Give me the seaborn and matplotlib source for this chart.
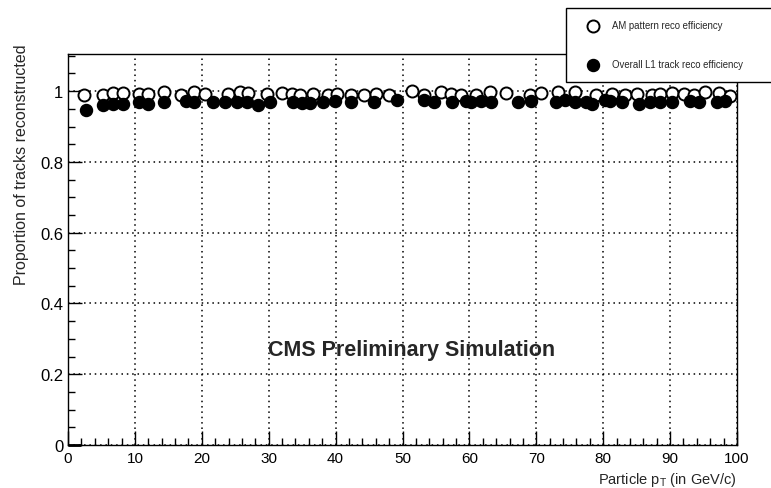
import matplotlib
matplotlib.use("Agg")
import matplotlib.pyplot as plt
import seaborn as sns
import pandas as pd
from matplotlib.ticker import MultipleLocator

# ---- data -------------------------------------------------------------
am_pt = [2.4, 5.2, 6.7, 8.2, 10.6, 12.0, 14.3, 16.9, 18.8, 20.5, 23.9, 25.7,
         26.9, 29.7, 32.0, 33.5, 34.7, 36.6, 38.9, 40.2, 42.3, 44.2, 46.0, 48.0,
         51.4, 53.2, 55.8, 57.2, 58.7, 61.0, 63.1, 65.5, 69.1, 70.7, 73.2, 75.8,
         78.9, 81.3, 83.3, 85.1, 87.3, 88.5, 90.3, 92.1, 93.6, 95.2, 97.3, 98.9]
am_eff = [0.988, 0.990, 0.995, 0.995, 0.993, 0.993, 0.997, 0.988, 0.997, 0.993,
          0.993, 0.997, 0.995, 0.993, 0.995, 0.993, 0.990, 0.993, 0.990, 0.993,
          0.990, 0.990, 0.993, 0.990, 1.000, 0.990, 0.997, 0.993, 0.990, 0.990,
          0.997, 0.995, 0.990, 0.995, 0.997, 0.997, 0.990, 0.993, 0.990, 0.993,
          0.990, 0.993, 0.995, 0.993, 0.990, 0.997, 0.995, 0.987]

l1_pt = [2.7, 5.2, 6.7, 8.2, 10.6, 12.0, 14.3, 17.6, 18.8, 21.7, 23.5, 25.3,
         26.8, 28.4, 30.2, 33.6, 35.0, 36.2, 38.1, 39.9, 42.3, 45.7, 49.2, 53.2,
         54.7, 57.4, 59.5, 60.3, 61.8, 63.2, 67.3, 69.2, 72.9, 74.3, 75.8, 77.4,
         78.4, 80.3, 81.0, 82.8, 85.4, 87.0, 88.5, 90.3, 93.0, 94.3, 97.0, 98.2]
l1_eff = [0.947, 0.960, 0.965, 0.965, 0.968, 0.965, 0.970, 0.972, 0.968, 0.970,
          0.970, 0.968, 0.970, 0.960, 0.970, 0.970, 0.967, 0.967, 0.970, 0.972,
          0.968, 0.970, 0.975, 0.975, 0.970, 0.968, 0.972, 0.970, 0.972, 0.970,
          0.970, 0.972, 0.968, 0.975, 0.970, 0.968, 0.965, 0.975, 0.972, 0.968,
          0.965, 0.970, 0.968, 0.970, 0.972, 0.970, 0.968, 0.972]

zero_bin_pt = [1.0]
zero_bin_eff = [0.0]
zero_bin_halfwidth = [1.0]

x_ticks = [0, 10, 20, 30, 40, 50, 60, 70, 80, 90, 100]
y_ticks = [0, 0.2, 0.4, 0.6, 0.8, 1.0]
y_tick_labels = ["0", "0.2", "0.4", "0.6", "0.8", "1"]

am_label = "AM pattern reco efficiency"
l1_label = "Overall L1 track reco efficiency"

# ---- style ------------------------------------------------------------
sns.set_style("ticks")
plt.rcParams["font.family"] = ["Liberation Sans", "DejaVu Sans"]
plt.rcParams["mathtext.default"] = "regular"
plt.rcParams["xtick.direction"] = "in"
plt.rcParams["ytick.direction"] = "in"

fig = plt.figure(figsize=(7.71, 4.89), dpi=100)
ax = fig.add_axes([68 / 771, 43 / 489, 669 / 771, 391 / 489])

am_df = pd.DataFrame({"pt": am_pt, "eff": am_eff})
l1_df = pd.DataFrame({"pt": l1_pt, "eff": l1_eff})

sns.scatterplot(data=am_df, x="pt", y="eff", ax=ax, s=75, marker="o",
                facecolor="white", edgecolor="black", linewidth=1.4,
                label=am_label, zorder=3, legend=False)
sns.scatterplot(data=l1_df, x="pt", y="eff", ax=ax, s=75, marker="o",
                color="black", edgecolor="black", linewidth=1.0,
                label=l1_label, zorder=4, legend=False)
ax.errorbar(zero_bin_pt, zero_bin_eff, xerr=zero_bin_halfwidth, fmt="none",
            ecolor="black", elinewidth=2.0, zorder=5, clip_on=False)

ax.set_xlim(0, 100)
ax.set_ylim(0, 1.105)
ax.set_xticks(x_ticks)
ax.set_xticklabels([str(t) for t in x_ticks])
ax.set_yticks(y_ticks)
ax.set_yticklabels(y_tick_labels)
ax.xaxis.set_minor_locator(MultipleLocator(2))
ax.yaxis.set_minor_locator(MultipleLocator(0.05))
ax.tick_params(axis="both", which="major", length=10, width=1,
               color="black", labelcolor="black")
ax.tick_params(axis="x", which="major", labelsize=11, pad=4)
ax.tick_params(axis="y", which="major", labelsize=12, pad=3.5)
ax.tick_params(axis="both", which="minor", length=5, width=1, color="black")
ax.tick_params(top=False, right=False, which="both")

ax.grid(True, which="major", linestyle=(0, (1, 2.5)), linewidth=1.1,
        color="black")
for sp in ax.spines.values():
    sp.set_visible(True)
    sp.set_color("black")
    sp.set_linewidth(1.0)

ax.set_xlabel(r"Particle p$_{T}$ (in GeV/c)", fontsize=10.5, ha="right")
ax.xaxis.set_label_coords(1.0, -0.065)
ax.set_ylabel("Proportion of tracks reconstructed", fontsize=11.5, ha="right")
ax.yaxis.set_label_coords(-0.058, 1.026)

ax.text(0.513, 0.2455, "CMS Preliminary Simulation", transform=ax.transAxes,
        ha="center", va="center", fontsize=15.5, fontweight="bold")

handles, labels = ax.get_legend_handles_labels()
leg = fig.legend(handles, labels, loc="upper left",
                 bbox_to_anchor=(566 / 771, 1 - 9 / 489 - 0.3, 240 / 771, 0.3),
                 bbox_transform=fig.transFigure, mode="expand",
                 fontsize=6.9, frameon=True,
                 fancybox=False, framealpha=1, edgecolor="black",
                 borderpad=1.3, labelspacing=3.0, handlelength=3.0,
                 handletextpad=0.55, borderaxespad=0, markerscale=1.0)
leg.get_frame().set_linewidth(1.0)
leg.set_zorder(10)

fig.savefig("out.png", dpi=100)
